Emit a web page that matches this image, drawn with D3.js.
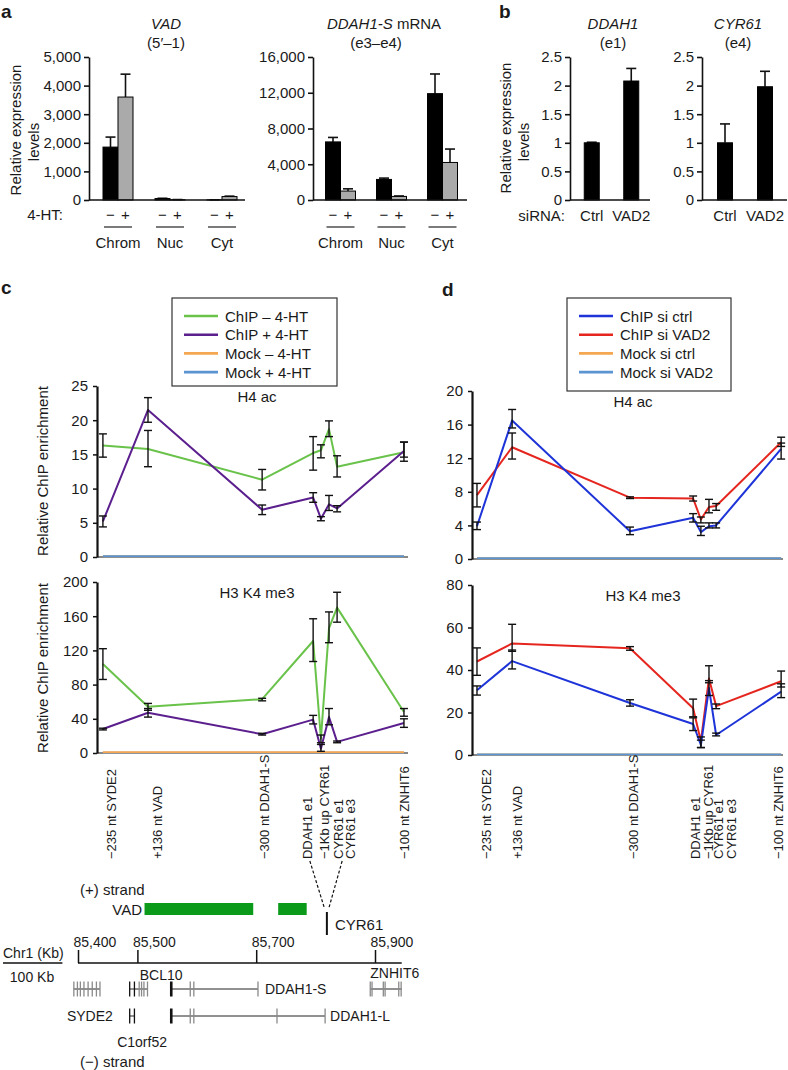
<!DOCTYPE html>
<html>
<head>
<meta charset="UTF-8">
<title>VAD expression and ChIP</title>
<script src="https://d3js.org/d3.v7.min.js"></script>
<style>
  body { margin: 0; background: #fff; }
  svg text { font-family: "Liberation Sans", Arial, Helvetica, sans-serif; fill: #1a1a1a; }
</style>
</head>
<body>
<script>
// ---------- panel a : qPCR of fractions ----------
var fractions = ["Chrom", "Nuc", "Cyt"];
var treatments = ["\u2212", "+"];
var vadMean = [[1850, 3600], [50, 10], [5, 120]];
var vadErr = [[2200, 4400], [60, 15], [8, 135]];
var ddahSMean = [[6500, 1000], [2300, 400], [11900, 4200]];
var ddahSErr = [[7000, 1250], [2450, 450], [14100, 5700]];
var vadTicks = [0, 1000, 2000, 3000, 4000, 5000];
var ddahSTicks = [0, 4000, 8000, 12000, 16000];

// ---------- panel b : siRNA ----------
var sirna = ["Ctrl", "VAD2"];
var ddah1Mean = [[1.0], [2.08]];
var ddah1Err = [[1.01], [2.3]];
var cyr61Mean = [[1.0], [1.98]];
var cyr61Err = [[1.33], [2.25]];
var foldTicks = [0, 0.5, 1, 1.5, 2, 2.5];

// ---------- panels c, d : ChIP along the locus ----------
var probes = ["\u2212235 nt SYDE2", "+136 nt VAD", "\u2212300 nt DDAH1-S", "DDAH1 e1",
  "\u22121Kb up CYR61", "CYR61 e1", "CYR61 e3", "\u2212100 nt ZNHIT6"];
var probePosC = [1.9, 16.4, 53.1, 69.5, 72, 74.6, 77.2, 98.7];
var probePosD = [1.6, 12.9, 50.8, 71.1, 73.6, 76.2, 78.5, 99.4];
var labelPosC = [4.8, 19.3, 54.0, 67.8, 73.3, 77.5, 81.4, 99.0];
var labelPosD = [4.8, 14.5, 51.8, 72.0, 75.9, 79.4, 83.3, 98.4];

var legendC = ["ChIP \u2013 4-HT", "ChIP + 4-HT", "Mock \u2013 4-HT", "Mock + 4-HT"];
var legendD = ["ChIP si ctrl", "ChIP si VAD2", "Mock si ctrl", "Mock si VAD2"];

var h4cMinus = [16.3, 15.8, 11.3, 15.2, 15.6, 18.7, 13.2, 15.3];
var h4cMinusLo = [14.6, 13.2, 9.8, 12.7, 14.5, 17.6, 11.7, 14.0];
var h4cMinusHi = [18.0, 18.5, 12.8, 17.6, 16.4, 19.9, 14.8, 16.8];
var h4cPlus = [5.2, 21.5, 6.9, 8.7, 5.6, 7.7, 7.1, 15.5];
var h4cPlusLo = [4.4, 19.7, 6.2, 8.0, 5.3, 6.8, 6.6, 14.6];
var h4cPlusHi = [6.0, 23.3, 7.6, 9.4, 5.9, 9.0, 7.5, 16.8];
var h4cMockMinus = [0.1, 0.1, 0.1, 0.1, 0.1, 0.1, 0.1, 0.1];
var h4cMockPlus = [0.1, 0.1, 0.1, 0.1, 0.1, 0.1, 0.1, 0.1];

var h3cMinus = [104, 54, 63, 131, 17, 146, 170, 48];
var h3cMinusLo = [86, 50, 61, 107, 12, 129, 153, 43];
var h3cMinusHi = [122, 58, 64, 157, 21, 165, 188, 52];
var h3cPlus = [28, 47, 22, 39, 5, 42, 13, 35];
var h3cPlusLo = [27, 42, 21, 34, 2, 33, 12, 30];
var h3cPlusHi = [29, 52, 23, 44, 10, 52, 14, 40];
var h3cMockMinus = [1, 1, 1, 1, 1, 1, 1, 1];
var h3cMockPlus = [0.4, 0.4, 0.4, 0.4, 0.4, 0.4, 0.4, 0.4];

var h4dCtrl = [3.9, 16.5, 3.3, 4.9, 3.2, 3.9, 4.0, 13.1];
var h4dCtrlLo = [3.5, 15.6, 2.9, 4.4, 2.8, 3.7, 3.7, 11.9];
var h4dCtrlHi = [4.4, 17.8, 3.8, 5.4, 3.9, 4.3, 4.3, 13.8];
var h4dVad = [7.6, 13.3, 7.3, 7.2, 4.7, 6.2, 6.3, 13.9];
var h4dVadLo = [6.2, 11.9, 7.2, 6.9, 4.3, 5.5, 5.8, 13.4];
var h4dVadHi = [9.0, 15.0, 7.4, 7.5, 5.0, 7.1, 6.6, 14.5];
var h4dMock = [0.1, 0.1, 0.1, 0.1, 0.1, 0.1, 0.1, 0.1];

var h3dCtrl = [30.5, 44.2, 24.5, 14.6, 4.7, 31.5, 9.4, 29.8];
var h3dCtrlLo = [28.2, 40.5, 23, 11.5, 3.5, 28, 9, 27];
var h3dCtrlHi = [32.5, 49.4, 26, 17.5, 7, 35, 10.3, 33.5];
var h3dVad = [44, 52.5, 50.2, 22, 6.5, 36, 23, 34.7];
var h3dVadLo = [37.5, 48.8, 49.3, 18, 3.5, 34, 21.8, 32];
var h3dVadHi = [50.4, 61.5, 51, 26.3, 8.5, 42, 24, 39.5];
var h3dMock = [0.2, 0.2, 0.2, 0.2, 0.2, 0.2, 0.2, 0.2];

// ---------- locus map (kb on chr1) ----------
var genomeTicks = [85400, 85500, 85700, 85900];
var vadExons = [[85512, 85695], [85737, 85785]];
var cyr61Kb = 85819;
var genes = [
  { name: "SYDE2", row: 0, start: 85393, end: 85437, marks: [85393, 85399, 85404, 85410, 85417, 85424, 85431, 85437] },
  { name: "BCL10", row: 0, start: 85487, end: 85517, marks: [85487, 85495, 85503, 85507, 85511, 85517] },
  { name: "DDAH1-S", row: 0, start: 85557, end: 85703, marks: [85557, 85589, 85595, 85703] },
  { name: "ZNHIT6", row: 0, start: 85892, end: 85945, marks: [85892, 85895, 85914, 85917, 85940, 85944] },
  { name: "C1orf52", row: 1, start: 85487, end: 85495, marks: [85487, 85495] },
  { name: "DDAH1-L", row: 1, start: 85557, end: 85816, marks: [85557, 85589, 85595, 85735, 85816] }
];

var green = "#69c24a", purple = "#5b1f8e", orange = "#f4a650", lightBlue = "#5b94d0";
var blue = "#1e34d8", red = "#e5261f";

var svg = d3.select("body").append("svg").attr("width", 788).attr("height", 1070);

function label(x, y, txt, opts) {
  opts = opts || {};
  var t = svg.append("text").attr("x", x).attr("y", y)
    .attr("font-size", opts.size || 15)
    .attr("text-anchor", opts.anchor || "start")
    .text(txt);
  if (opts.weight) t.attr("font-weight", opts.weight);
  if (opts.italic) t.attr("font-style", "italic");
  if (opts.rotate) t.attr("transform", "rotate(-90," + x + "," + y + ")");
  return t;
}

function errBar(g, x, y1, y2, cap) {
  g.append("line").attr("x1", x).attr("x2", x).attr("y1", y1).attr("y2", y2)
    .attr("stroke", "#111").attr("stroke-width", 1.4);
  [y1, y2].forEach(function (yy) {
    g.append("line").attr("x1", x - cap).attr("x2", x + cap).attr("y1", yy).attr("y2", yy)
      .attr("stroke", "#111").attr("stroke-width", 1.4);
  });
}

// ---------- bar chart (panels a and b) ----------
function barChart(o) {
  var y = d3.scaleLinear().domain([0, o.yMax]).range([200, 57]);
  var x0 = d3.scaleBand().domain(o.cats).range(o.band);
  var bw = 15;
  var g = svg.append("g");

  var ax = g.append("g").attr("transform", "translate(" + o.left + ",0)")
    .call(d3.axisLeft(y).tickValues(o.ticks).tickSize(5).tickSizeOuter(0).tickPadding(3).tickFormat(o.fmt));
  ax.attr("font-size", 15).attr("font-family", "Liberation Sans, Arial, sans-serif");
  ax.selectAll("line, path").attr("stroke", "#111").attr("stroke-width", 1.6);
  ax.selectAll("text").attr("fill", "#1a1a1a");

  o.cats.forEach(function (c, ci) {
    var n = o.means[ci].length;
    var cx = x0(c) + x0.bandwidth() / 2;
    o.means[ci].forEach(function (v, k) {
      var xl = cx - n * bw / 2 + k * bw;
      var err = o.errs[ci][k];
      if (err > v) {
        var xm = xl + bw / 2;
        g.append("line").attr("x1", xm).attr("x2", xm).attr("y1", y(v)).attr("y2", y(err))
          .attr("stroke", "#111").attr("stroke-width", 1.6);
        g.append("line").attr("x1", xm - 5).attr("x2", xm + 5).attr("y1", y(err)).attr("y2", y(err))
          .attr("stroke", "#111").attr("stroke-width", 1.6);
      }
      g.append("rect").attr("x", xl).attr("width", bw)
        .attr("y", y(v)).attr("height", y(0) - y(v))
        .attr("fill", k === 0 ? "#000" : "#aaaaaa")
        .attr("stroke", "#000").attr("stroke-width", 1);
    });
    if (n === 2) {
      treatments.forEach(function (t, k) {
        label(cx - bw / 2 + k * bw, 220, t, { anchor: "middle" });
      });
      g.append("line").attr("x1", cx - 14).attr("x2", cx + 14).attr("y1", 227).attr("y2", 227)
        .attr("stroke", "#333").attr("stroke-width", 1.3);
      label(cx, 248, c, { anchor: "middle" });
    } else {
      label(cx, 221, c, { anchor: "middle" });
    }
  });

  g.append("line").attr("x1", o.left).attr("x2", o.right).attr("y1", y(0)).attr("y2", y(0))
    .attr("stroke", "#111").attr("stroke-width", 1.6);

  var t = label(o.titleX, 29, "", { anchor: "middle" });
  t.append("tspan").attr("font-style", "italic").text(o.title);
  if (o.titleRest) t.append("tspan").text(o.titleRest);
  label(o.subX || o.titleX, 48, o.sub, { anchor: "middle" });
}

var fmtK = d3.format(",");
barChart({ left: 89, right: 245, band: [92, 248], cats: fractions, yMax: 5000, ticks: vadTicks, fmt: fmtK,
  means: vadMean, errs: vadErr, title: "VAD", titleX: 166, sub: "(5\u2032\u20131)" });
barChart({ left: 313, right: 467, band: [315, 468], cats: fractions, yMax: 16000, ticks: ddahSTicks, fmt: fmtK,
  means: ddahSMean, errs: ddahSErr, title: "DDAH1-S", titleRest: " mRNA", titleX: 384, sub: "(e3\u2013e4)", subX: 376 });
barChart({ left: 570, right: 650, band: [572, 651], cats: sirna, yMax: 2.5, ticks: foldTicks, fmt: d3.format(""),
  means: ddah1Mean, errs: ddah1Err, title: "DDAH1", titleX: 613, sub: "(e1)" });
barChart({ left: 702, right: 787, band: [705, 785], cats: sirna, yMax: 2.5, ticks: foldTicks, fmt: d3.format(""),
  means: cyr61Mean, errs: cyr61Err, title: "CYR61", titleX: 738, sub: "(e4)" });

label(63, 220, "4-HT:", { anchor: "end" });
label(565, 221, "siRNA:", { anchor: "end" });
label(21, 130, "Relative expression", { anchor: "middle", rotate: true });
label(39, 142, "levels", { anchor: "middle", rotate: true });
label(511, 128, "Relative expression", { anchor: "middle", rotate: true });
label(529, 142, "levels", { anchor: "middle", rotate: true });

label(1, 18, "a", { size: 19, weight: "bold" });
label(499, 18, "b", { size: 19, weight: "bold" });
label(1, 294, "c", { size: 19, weight: "bold" });
label(442, 296, "d", { size: 19, weight: "bold" });

// ---------- line charts (panels c and d) ----------
function lineChart(o) {
  var x = d3.scaleLinear().domain([0, 100]).range(o.xRange);
  var y = d3.scaleLinear().domain([0, o.yMax]).range([o.bottom, o.top]);
  var g = svg.append("g");

  g.append("line").attr("x1", o.xRange[0]).attr("x2", o.xRange[1]).attr("y1", y(0)).attr("y2", y(0))
    .attr("stroke", "#111").attr("stroke-width", 1);

  var ax = g.append("g").attr("transform", "translate(" + o.xRange[0] + ",0)")
    .call(d3.axisLeft(y).tickValues(o.ticks).tickSize(4).tickSizeOuter(0).tickPadding(5));
  ax.attr("font-size", 15).attr("font-family", "Liberation Sans, Arial, sans-serif");
  ax.selectAll("line").attr("stroke", "#111").attr("stroke-width", 1.5);
  ax.select(".domain").attr("stroke", "#111").attr("stroke-width", 2.2);
  ax.selectAll("text").attr("fill", "#1a1a1a");

  var line = d3.line().x(function (d, i) { return x(o.pos[i]); }).y(function (d) { return y(d); });
  o.series.forEach(function (s) {
    g.append("path").datum(s.mean).attr("d", line).attr("fill", "none")
      .attr("stroke", s.color).attr("stroke-width", 2).attr("stroke-linejoin", "round");
  });
  o.series.forEach(function (s) {
    if (!s.lo) return;
    s.mean.forEach(function (m, i) {
      errBar(g, x(o.pos[i]), y(s.hi[i]), y(s.lo[i]), 4);
    });
  });
  label(o.titleX, o.top + 16, o.title, { anchor: "middle" });
}

lineChart({ xRange: [97, 408], top: 386, bottom: 557, yMax: 25, ticks: [0, 5, 10, 15, 20, 25], pos: probePosC,
  title: "H4 ac", titleX: 257,
  series: [
    { color: orange, mean: h4cMockMinus },
    { color: lightBlue, mean: h4cMockPlus },
    { color: green, mean: h4cMinus, lo: h4cMinusLo, hi: h4cMinusHi },
    { color: purple, mean: h4cPlus, lo: h4cPlusLo, hi: h4cPlusHi }
  ] });
lineChart({ xRange: [97, 408], top: 582, bottom: 753, yMax: 200, ticks: [0, 40, 80, 120, 160, 200], pos: probePosC,
  title: "H3 K4 me3", titleX: 257,
  series: [
    { color: lightBlue, mean: h3cMockPlus },
    { color: orange, mean: h3cMockMinus },
    { color: green, mean: h3cMinus, lo: h3cMinusLo, hi: h3cMinusHi },
    { color: purple, mean: h3cPlus, lo: h3cPlusLo, hi: h3cPlusHi }
  ] });
lineChart({ xRange: [472, 783], top: 391, bottom: 559, yMax: 20, ticks: [0, 4, 8, 12, 16, 20], pos: probePosD,
  title: "H4 ac", titleX: 633,
  series: [
    { color: orange, mean: h4dMock },
    { color: lightBlue, mean: h4dMock },
    { color: red, mean: h4dVad, lo: h4dVadLo, hi: h4dVadHi },
    { color: blue, mean: h4dCtrl, lo: h4dCtrlLo, hi: h4dCtrlHi }
  ] });
lineChart({ xRange: [472, 783], top: 585, bottom: 755, yMax: 80, ticks: [0, 20, 40, 60, 80], pos: probePosD,
  title: "H3 K4 me3", titleX: 643,
  series: [
    { color: orange, mean: h3dMock },
    { color: lightBlue, mean: h3dMock },
    { color: red, mean: h3dVad, lo: h3dVadLo, hi: h3dVadHi },
    { color: blue, mean: h3dCtrl, lo: h3dCtrlLo, hi: h3dCtrlHi }
  ] });

label(48, 471, "Relative ChIP enrichment", { anchor: "middle", rotate: true });
label(48, 668, "Relative ChIP enrichment", { anchor: "middle", rotate: true });

// legends
function legend(x0, y0, w, h, names, colors) {
  svg.append("rect").attr("x", x0).attr("y", y0).attr("width", w).attr("height", h)
    .attr("fill", "#fff").attr("stroke", "#333").attr("stroke-width", 1.2);
  names.forEach(function (nm, i) {
    var yy = y0 + 18 + i * 18.7;
    svg.append("line").attr("x1", x0 + 12).attr("x2", x0 + 46).attr("y1", yy).attr("y2", yy)
      .attr("stroke", colors[i]).attr("stroke-width", 2.6);
    label(x0 + 53, yy + 5.5, nm);
  });
}
legend(172, 298, 165, 88, legendC, [green, purple, orange, lightBlue]);
legend(567, 298, 164, 93, legendD, [blue, red, orange, lightBlue]);

// rotated probe labels
var xC = d3.scaleLinear().domain([0, 100]).range([97, 408]);
var xD = d3.scaleLinear().domain([0, 100]).range([472, 783]);
probes.forEach(function (p, i) {
  label(xC(labelPosC[i]) + 4.5, 859, p, { size: 13, rotate: true });
  label(xD(labelPosD[i]) + 4.5, 859, p, { size: 13, rotate: true });
});

// ---------- locus map ----------
var gx = d3.scaleLinear().domain([85400, 85900]).range([78, 375]);
var axisY = 963;
var gax = svg.append("g").attr("transform", "translate(0," + axisY + ")")
  .call(d3.axisTop(gx).tickValues(genomeTicks).tickSize(13).tickSizeOuter(0).tickPadding(3).tickFormat(d3.format(",")));
gax.select(".domain").remove();
gax.attr("font-size", 14).attr("font-family", "Liberation Sans, Arial, sans-serif");
gax.selectAll("line").attr("stroke", "#111").attr("stroke-width", 1.5);
gax.selectAll("text").attr("text-anchor", "start").attr("dx", -5).attr("fill", "#1a1a1a");
svg.append("line").attr("x1", gx(85400)).attr("x2", gx(85945)).attr("y1", axisY).attr("y2", axisY)
  .attr("stroke", "#111").attr("stroke-width", 1.5);

// 100 kb scale bar
svg.append("line").attr("x1", 3).attr("x2", 3 + gx(85500) - gx(85400)).attr("y1", axisY).attr("y2", axisY)
  .attr("stroke", "#111").attr("stroke-width", 1.3);
label(3, 958, "Chr1 (Kb)", { size: 14 });
label(32, 982, "100 Kb", { size: 14, anchor: "middle" });

label(80, 895, "(+) strand");
label(142, 915, "VAD", { anchor: "end" });
vadExons.forEach(function (e) {
  svg.append("rect").attr("x", gx(e[0])).attr("width", gx(e[1]) - gx(e[0]))
    .attr("y", 903).attr("height", 12).attr("fill", "#0c9a1a");
});
svg.append("line").attr("x1", gx(cyr61Kb)).attr("x2", gx(cyr61Kb)).attr("y1", 912).attr("y2", 935)
  .attr("stroke", "#111").attr("stroke-width", 2);
label(gx(cyr61Kb) + 8, 930, "CYR61");

// dashed connectors from CYR61 probes
[[xC(labelPosC[3]) + 2, -2.5], [xC(labelPosC[6]) - 8, 2]].forEach(function (d) {
  svg.append("line").attr("x1", d[0]).attr("y1", 861).attr("x2", gx(cyr61Kb) + d[1]).attr("y2", 908)
    .attr("stroke", "#111").attr("stroke-width", 1.2).attr("stroke-dasharray", "3,2");
});

var rowY = [989, 1016];
genes.forEach(function (gn) {
  var yy = rowY[gn.row];
  svg.append("line").attr("x1", gx(gn.start)).attr("x2", gx(gn.end)).attr("y1", yy).attr("y2", yy)
    .attr("stroke", "#222").attr("stroke-width", 1);
  gn.marks.forEach(function (m, i) {
    var thick = gn.name.indexOf("DDAH1") === 0 && i === 0;
    var edge = gn.name === "C1orf52" || (gn.name === "BCL10" && i < 2);
    svg.append("line").attr("x1", gx(m)).attr("x2", gx(m)).attr("y1", yy - 7.5).attr("y2", yy + 7.5)
      .attr("stroke", thick || edge ? "#111" : "#8a8a8a").attr("stroke-width", thick ? 2.6 : 1.3);
  });
});
label(gx(85703) + 7, 994, "DDAH1-S", { size: 14 });
label(gx(85816) + 5, 1021, "DDAH1-L", { size: 14 });
label(gx(85415) + 3, 1021, "SYDE2", { size: 14, anchor: "middle" });
label(gx(85491) + 10, 1047, "C1orf52", { size: 14, anchor: "middle" });
label(gx(85504), 980, "BCL10", { size: 14 });
label(gx(85892), 978, "ZNHIT6", { size: 14 });
label(80, 1067, "(\u2212) strand");
</script>
</body>
</html>
